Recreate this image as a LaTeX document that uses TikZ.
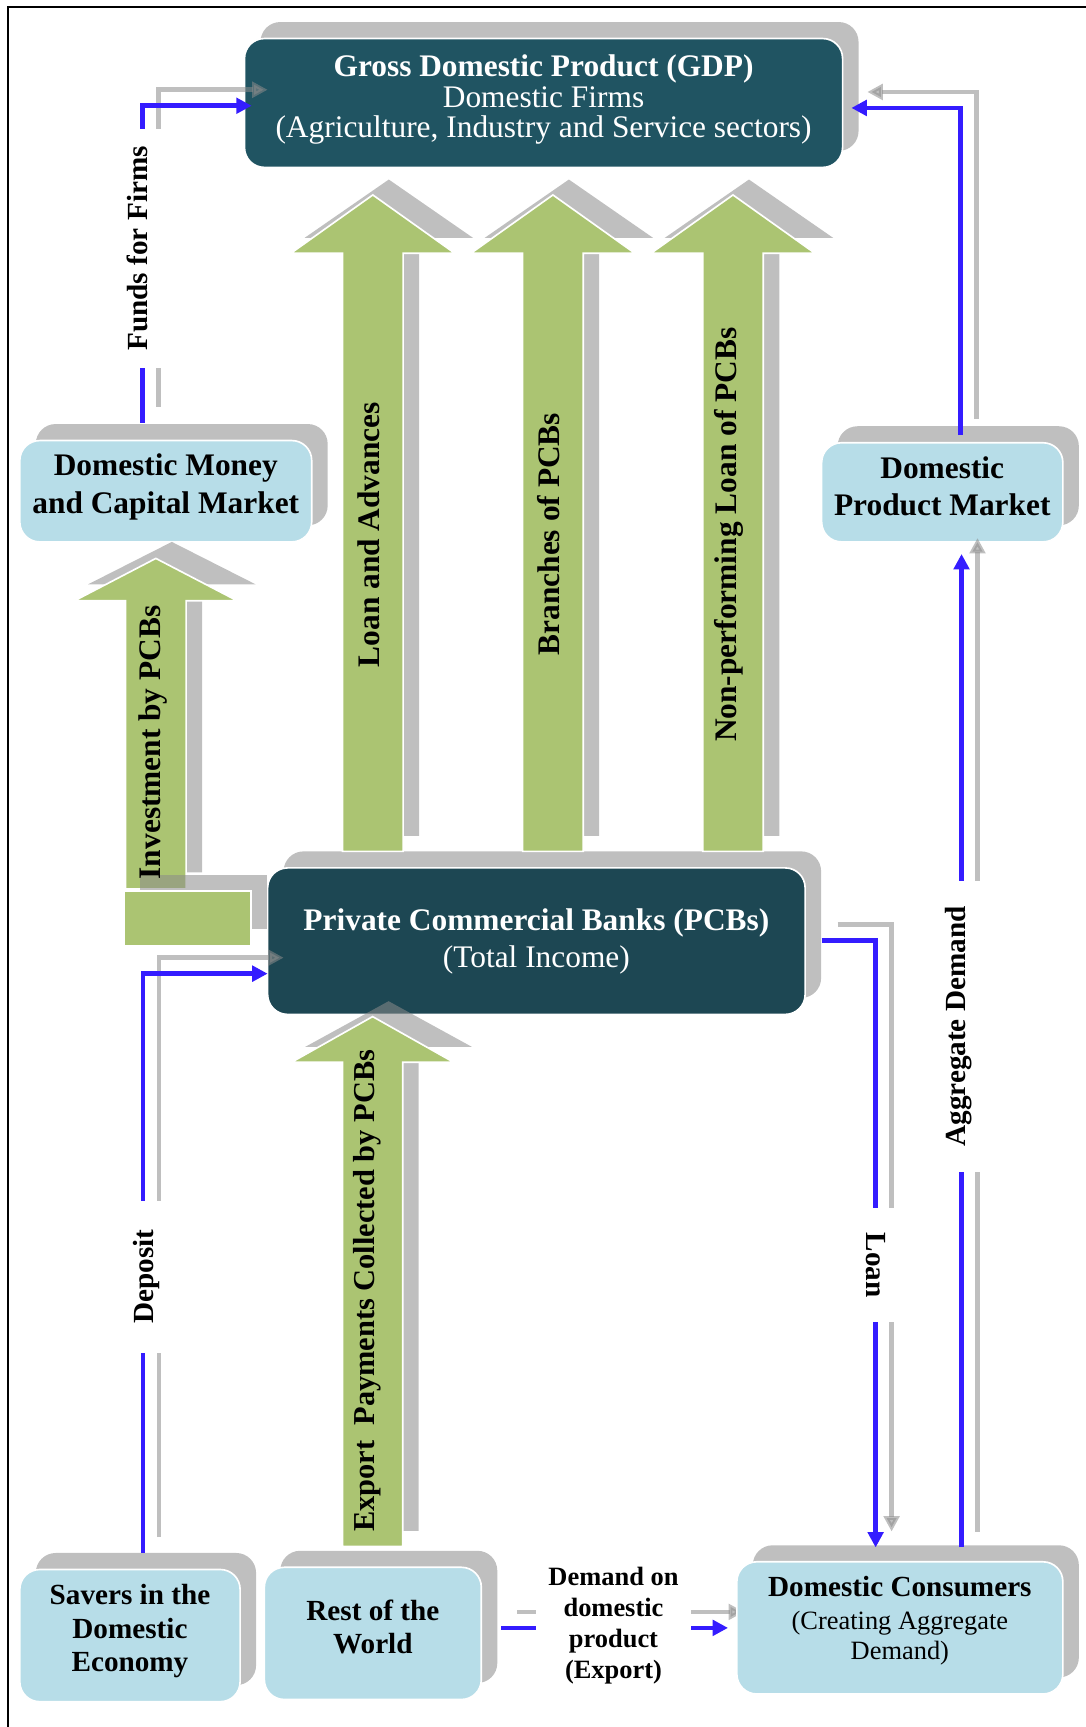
\documentclass[tikz,border=0pt]{standalone}
\usepackage{fontspec}
\setmainfont{Liberation Serif}
\usetikzlibrary{arrows.meta,shadows}

\definecolor{boxblue}{RGB}{183,221,232}
\definecolor{gdpteal}{RGB}{32,84,98}
\definecolor{bankteal}{RGB}{29,71,83}
\definecolor{leafgreen}{RGB}{171,196,114}
\definecolor{shadegrey}{RGB}{191,191,191}
\definecolor{shadedark}{RGB}{139,139,139}
\definecolor{flowblue}{RGB}{52,28,255}

\pgfdeclarelayer{under}
\pgfsetlayers{under,main}

\tikzset{
  shell/.style={rectangle, rounded corners=18pt, draw=white, line width=1.5pt,
    outer sep=0pt, inner sep=0pt,
    general shadow={fill=shadegrey, shadow xshift=14.5pt, shadow yshift=15pt}},
  lightbox/.style={shell, fill=boxblue},
  gdpbox/.style={shell, fill=gdpteal},
  bankbox/.style={shell, fill=bankteal},
  boxtext/.style={align=center, inner sep=0pt},
  flow/.style={draw=flowblue, line width=4.2pt, -{Triangle[length=14pt,width=14pt]}},
  flowshade/.style={draw=shadedark, opacity=0.55, line width=4.2pt,
    -{Triangle[length=14pt,width=14pt]},
    transform canvas={xshift=14.5pt,yshift=14.5pt}},
  gap/.style={fill=white, inner sep=0pt, font=\fontsize{26.5}{30}\selectfont\bfseries},
  arrowgreen/.style={fill=leafgreen, draw=white, line width=1.5pt},
  arrowshade/.style={fill=shadedark, fill opacity=0.55},
  arrowtext/.style={rotate=90, inner sep=0pt, font=\fontsize{28.5}{30}\selectfont\bfseries},
}

% upward block arrow with its offset grey shade:
% #1 centre x, #2 bottom y, #3 head base y, #4 tip y,
% #5 shaft half width, #6 head half width, #7 upward shade offset
\newcommand{\blockup}[7]{%
  \fill[arrowshade] ({#1+14.5-#5},{#2-#7}) -- ({#1+14.5-#5},{#3-#7})
    -- ({#1+14.5-#6-2},{#3-#7}) -- ({#1+14.5},{#4-#7})
    -- ({#1+14.5+#6+2},{#3-#7}) -- ({#1+14.5+#5},{#3-#7})
    -- ({#1+14.5+#5},{#2-#7}) -- cycle;
  \filldraw[arrowgreen] ({#1-#5},#2) -- ({#1-#5},#3) -- ({#1-#6},#3)
    -- (#1,#4) -- ({#1+#6},#3) -- ({#1+#5},#3) -- ({#1+#5},#2) -- cycle;
}

\begin{document}
\begin{tikzpicture}[x=1pt,y=-1pt]
\useasboundingbox (0,0) rectangle (986,1568);

% outer frame
\draw[line width=2pt] (7,1568) -- (7,6) -- (986,6);

% boxes
\node[gdpbox, minimum width=543pt, minimum height=117pt] (gdp) at (493.5,93.5) {};
\node[lightbox, minimum width=265pt, minimum height=92pt] (money) at (150.5,446) {};
\node[lightbox, minimum width=219pt, minimum height=90pt] (product) at (855.5,447) {};
\node[bankbox, minimum width=488pt, minimum height=133pt] (pcbs) at (487,854.5) {};
\node[lightbox, minimum width=200pt, minimum height=120pt] (savers) at (118,1485) {};
\node[lightbox, minimum width=197pt, minimum height=120pt] (rest) at (338.5,1483) {};
\node[lightbox, minimum width=296pt, minimum height=120pt] (consumers) at (817,1478) {};

% export flow runs beneath the boxes
\begin{pgfonlayer}{under}
\draw[flowshade] ([shift={(18,-5)}]rest.east) -- ([shift={(-8,0)}]consumers.west);
\draw[flow] ([shift={(18,-5)}]rest.east) -- ([shift={(-8,0)}]consumers.west);
\end{pgfonlayer}

% green block arrows
\blockup{338.5}{773}{230}{177}{27.5}{74.5}{14}
\blockup{502}{773}{230}{177}{27.5}{74.5}{14}
\blockup{665.5}{773}{230}{177}{27.5}{74.5}{14}
\blockup{141.5}{807}{545.5}{507}{27.5}{74}{15}
\fill[arrowshade] (127.5,794) rectangle (242.5,843.5);
\filldraw[arrowgreen] (113,809) rectangle (228,858.5);
\blockup{338.3}{1404}{964.5}{923}{27.3}{73.7}{14}

% flows between boxes
\draw[flowshade] ([shift={(-21,-16)}]money.north) |- ([shift={(6.5,2.5)}]gdp.west);
\draw[flow] ([shift={(-21,-16)}]money.north) |- ([shift={(6.5,2.5)}]gdp.west);

\draw[flowshade] ([shift={(12,-15)}]savers.north) |- ([shift={(0,29.5)}]pcbs.west);
\draw[flow] ([shift={(12,-15)}]savers.north) |- ([shift={(0,29.5)}]pcbs.west);

\draw[flowshade] ([shift={(15,-0.5)}]pcbs.east) -| ([shift={(-22,-13)}]consumers.north);
\draw[flow] ([shift={(15,-0.5)}]pcbs.east) -| ([shift={(-22,-13)}]consumers.north);

\draw[flowshade] ([shift={(56,-13)}]consumers.north) -- ([shift={(17.5,11)}]product.south);
\draw[flow] ([shift={(56,-13)}]consumers.north) -- ([shift={(17.5,11)}]product.south);

\draw[flowshade] ([shift={(16.5,-7)}]product.north) |- ([shift={(8,4.5)}]gdp.east);
\draw[flow] ([shift={(16.5,-7)}]product.north) |- ([shift={(8,4.5)}]gdp.east);

% flow labels
\node[gap, rotate=90, minimum width=217pt, minimum height=50pt] (funds) at (125,225.5) {Funds for Firms};
\node[gap, rotate=90, minimum width=138pt, minimum height=44pt] (deposit) at (133,1159) {Deposit};
\node[gap, rotate=-90, minimum width=103pt, minimum height=40pt] (loan) at (795,1148.5) {Loan};
\node[gap, rotate=90, minimum width=264pt, minimum height=44pt] (aggdemand) at (870,932) {Aggregate Demand};
\node[gap, align=center, minimum width=141pt, font=\fontsize{24}{28}\selectfont\bfseries] (exportlab) at (557,1476) {Demand on\\domestic\\product\\(Export)};

% box texts
\node[boxtext, text=white, font=\fontsize{28.5}{27.5}\selectfont] (gdp-t) at (493.5,90.5)
  {\textbf{Gross Domestic Product (GDP)}\\Domestic Firms\\(Agriculture, Industry and Service sectors)};
\node[boxtext, font=\fontsize{28.5}{34}\selectfont\bfseries] (money-t) at (150.5,442) {Domestic Money\\and Capital Market};
\node[boxtext, font=\fontsize{28.5}{34}\selectfont\bfseries] (product-t) at (855.5,441.5) {Domestic\\Product Market};
\node[boxtext, text=white, font=\fontsize{28.5}{34}\selectfont] (pcbs-t) at (487,855)
  {\textbf{Private Commercial Banks (PCBs)}\\(Total Income)};
\node[boxtext, font=\fontsize{26.5}{30.5}\selectfont\bfseries] (savers-t) at (118,1481) {Savers in the\\Domestic\\Economy};
\node[boxtext, font=\fontsize{26.5}{30}\selectfont\bfseries] (rest-t) at (338.5,1477.5) {Rest of the\\World};
\node[boxtext, font=\fontsize{24}{27}\selectfont] (consumers-t) at (817,1471.5)
  {{\fontsize{26.5}{30}\selectfont\bfseries Domestic Consumers}\\[3pt](Creating Aggregate\\Demand)};

% block arrow texts
\node[arrowtext] (loanadv-t) at (335,485.5) {Loan and Advances};
\node[arrowtext] (branches-t) at (498.5,485) {Branches of PCBs};
\node[arrowtext] (npl-t) at (662,485.5) {Non-performing Loan of PCBs};
\node[arrowtext] (invest-t) at (139,674) {Investment by PCBs};
\node[arrowtext, font=\fontsize{27.6}{30}\selectfont\bfseries] (exportpay-t) at (333,1172) {Export\ \ Payments Collected by PCBs};
\end{tikzpicture}
\end{document}
